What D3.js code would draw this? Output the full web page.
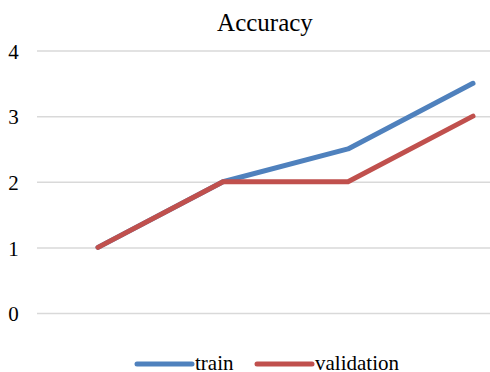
<!DOCTYPE html>
<html>
<head>
<meta charset="utf-8">
<script src="https://cdn.jsdelivr.net/npm/d3@7"></script>
</head>
<body style="margin:0">
<div id="chart"></div>
<script>
let w = 490
let h = 372
let fontName = "'Liberation Serif', 'Times New Roman', serif"

let epochs = [1, 2, 3, 4]
let trainValues = [1, 2, 2.5, 3.5]
let validationValues = [1, 2, 2, 3]
let yTicks = [0, 1, 2, 3, 4]
let seriesNames = ["train", "validation"]
let seriesColors = ["#4f81bd", "#c0504d"]

let svg = d3.select("#chart")
	.append("svg")
	.attr("width", w)
	.attr("height", h)
	.style("display", "block")

let xScale = d3.scalePoint()
	.domain(epochs)
	.range([98, 473])

let yScale = d3.scaleLinear()
	.domain([0, 4])
	.range([313, 50.5])

// Gridlines + y labels
let yAxis = d3.axisLeft(yScale)
	.tickValues(yTicks)
	.tickSize(-(w - 37))
	.tickFormat(d3.format("d"))

let yG = svg.append("g")
	.attr("transform", "translate(37, 0)")
	.call(yAxis)

yG.select(".domain").remove()
yG.selectAll(".tick line")
	.attr("stroke", "#d9d9d9")
	.attr("stroke-width", 1.5)
yG.selectAll(".tick text")
	.style("font-family", fontName)
	.style("font-size", "21px")
	.attr("fill", "#000")
	.attr("text-anchor", "middle")
	.attr("x", -23.5)
	.attr("dy", "0.37em")

// Title
svg.append("text")
	.attr("x", 265)
	.attr("y", 31)
	.attr("text-anchor", "middle")
	.style("font-family", fontName)
	.style("font-size", "25px")
	.attr("fill", "#000")
	.text("Accuracy")

// Lines
let line = d3.line()
	.x((d, i) => xScale(epochs[i]))
	.y(d => yScale(d))

let allSeries = [trainValues, validationValues]

svg.selectAll(".series")
	.data(allSeries)
	.enter()
	.append("path")
	.attr("class", "series")
	.attr("d", d => line(d))
	.attr("fill", "none")
	.attr("stroke", (d, i) => seriesColors[i])
	.attr("stroke-width", 5)
	.attr("stroke-linecap", "round")
	.attr("stroke-linejoin", "round")

// Legend
let legendX = [137, 257]
let legend = svg.selectAll(".legend")
	.data(seriesNames)
	.enter()
	.append("g")
	.attr("class", "legend")
	.attr("transform", (d, i) => "translate(" + legendX[i] + ", 364)")

legend.append("line")
	.attr("x1", 0)
	.attr("x2", 55)
	.attr("y1", 0)
	.attr("y2", 0)
	.attr("stroke", (d, i) => seriesColors[i])
	.attr("stroke-width", 5)
	.attr("stroke-linecap", "round")

legend.append("text")
	.attr("x", 58)
	.attr("y", 6)
	.style("font-family", fontName)
	.style("font-size", "21px")
	.attr("fill", "#000")
	.text(d => d)
</script>
</body>
</html>
